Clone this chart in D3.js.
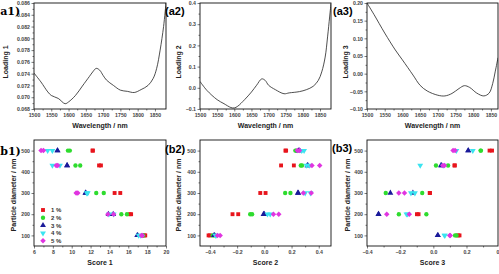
<!DOCTYPE html>
<html>
<head>
<meta charset="utf-8">
<script src="https://cdn.jsdelivr.net/npm/d3@7"></script>
<style>
  body { margin: 0; background: #fff; }
  text { font-family: "Liberation Sans", Arial, sans-serif; }
</style>
</head>
<body>
<script>
// ---- data ----
var wl1 = [1500,1520,1540,1550,1570,1590,1600,1620,1640,1660,1670,1680,1690,1700,1710,1730,1750,1770,1790,1810,1830,1845,1855,1865,1875,1882];
var load1 = [0.0741,0.0726,0.0709,0.0703,0.0698,0.0689,0.0692,0.0703,0.0719,0.0735,0.0743,0.0749,0.0746,0.0737,0.0729,0.0720,0.0712,0.0710,0.0708,0.0713,0.0720,0.0732,0.0749,0.0780,0.0820,0.0860];

var wl2 = [1500,1520,1550,1570,1590,1600,1610,1630,1650,1665,1680,1690,1700,1720,1745,1760,1790,1810,1830,1845,1855,1865,1872,1878,1882];
var load2 = [0.030,-0.012,-0.056,-0.075,-0.093,-0.095,-0.087,-0.056,-0.020,0.012,0.042,0.035,0.012,-0.009,-0.028,-0.024,-0.018,-0.009,0.007,0.035,0.075,0.145,0.240,0.334,0.397];

var wl3 = [1500,1520,1550,1580,1600,1630,1650,1670,1700,1720,1740,1760,1775,1790,1810,1830,1845,1855,1862,1870];
var load3 = [0.200,0.167,0.115,0.067,0.039,-0.004,-0.033,-0.049,-0.061,-0.063,-0.056,-0.042,-0.034,-0.039,-0.055,-0.063,-0.055,-0.028,0.005,0.045];

var diameters = [100, 200, 300, 430, 500];
var concLabels = ["1 %", "2 %", "3 %", "4 %", "5 %"];

// two replicate scores per diameter (100,200,300,430,500), one row per concentration
var score1 = [
  [[17.7,17.8],[16.15,16.3],[14.55,15.15],[12.9,13.1],[12.2,12.25]],
  [[17.5,17.6],[15.26,15.86],[12.6,13.4],[10.4,10.9],[9.6,9.8]],
  [[16.95,17.0],[13.9,14.4],[11.45,11.5],[9.5,9.52],[8.48,8.5]],
  [[17.1,17.3],[13.95,14.45],[11.6,11.7],[7.95,8.75],[7.45,7.95]],
  [[17.4,17.5],[13.84,14.44],[10.47,10.65],[8.35,8.52],[6.75,7.0]]
];
var score2 = [
  [[-0.41,-0.40],[-0.234,-0.192],[-0.03,0.009],[0.123,0.217],[0.155,0.16]],
  [[-0.38,-0.37],[-0.104,-0.09],[0.153,0.192],[0.268,0.277],[0.228,0.235]],
  [[-0.37,-0.365],[-0.006,0.0],[0.246,0.25],[0.316,0.32],[0.25,0.26]],
  [[-0.36,-0.355],[0.023,0.043],[0.30,0.339],[0.31,0.33],[0.275,0.292]],
  [[-0.345,-0.325],[0.067,0.106],[0.287,0.345],[0.35,0.407],[0.243,0.258]]
];
var score3 = [
  [[0.15,0.158],[-0.099,-0.089],[-0.022,-0.02],[0.127,0.13],[0.339,0.354]],
  [[0.131,0.14],[-0.208,-0.042],[-0.287,-0.067],[0.016,0.089],[0.285,0.287]],
  [[0.026,0.028],[-0.331,-0.33],[-0.259,-0.123],[0.046,0.05],[0.21,0.211]],
  [[0.067,0.07],[-0.162,-0.155],[-0.135,-0.111],[-0.079,0.06],[0.139,0.238]],
  [[0.099,0.102],[-0.281,-0.145],[-0.208,-0.174],[0.057,0.067],[0.119,0.131]]
];

var wlTicks = [1500,1550,1600,1650,1700,1750,1800,1850];
var yTicks1 = [0.068,0.070,0.072,0.074,0.076,0.078,0.080,0.082,0.084,0.086];
var yTicks2 = [-0.1,0.0,0.1,0.2,0.3,0.4];
var yTicks3 = [-0.10,-0.05,0.00,0.05,0.10,0.15,0.20];
var dTicks = [100,200,300,400,500];
var sTicks1 = [6,8,10,12,14,16,18,20];
var sTicks2 = [-0.4,-0.2,0.0,0.2,0.4];
var sTicks3 = [-0.4,-0.2,0.0,0.2,0.4];

var colors = ["#e8141c", "#2edc2e", "#1a1a9a", "#3ae4f0", "#e034e0"];
var shapes = [d3.symbolSquare, d3.symbolCircle, d3.symbolTriangle, d3.symbolTriangle, d3.symbolSquare];
var turns = ["", "", "", " rotate(180)", " rotate(45)"];

// ---- drawing ----
var svg = d3.select("body").append("svg")
    .attr("width", 499).attr("height", 274);
svg.append("rect").attr("width", 499).attr("height", 274).attr("fill", "#fff");

var cols = [[34,166],[200,331],[367,498]];
var rowA = [3,109], rowB = [140,246];

function minorBetween(ticks) {
    var out = [];
    for (var i = 0; i < ticks.length - 1; i++) out.push((ticks[i] + ticks[i+1]) / 2);
    return out;
}

function frame(g, x, y, xt, yt, xfmt, yfmt, xtitle, ytitle, ytx, yty, tag, tagx, tagy, serif) {
    var x0 = x.range()[0], x1 = x.range()[1], y0 = y.range()[1], y1 = y.range()[0];

    g.append("g").attr("transform", "translate(0," + y1 + ")")
        .call(d3.axisBottom(x).tickValues(xt).tickSize(2.5).tickPadding(1.5).tickFormat(xfmt));
    g.append("g").attr("transform", "translate(0," + y1 + ")")
        .call(d3.axisBottom(x).tickValues(minorBetween(xt)).tickSize(1.5).tickFormat(""));
    g.append("g").attr("transform", "translate(" + x0 + ",0)")
        .call(d3.axisLeft(y).tickValues(yt).tickSize(2.5).tickPadding(1.5).tickFormat(yfmt));
    g.append("g").attr("transform", "translate(" + x0 + ",0)")
        .call(d3.axisLeft(y).tickValues(minorBetween(yt)).tickSize(1.5).tickFormat(""));

    g.selectAll(".domain").remove();
    g.selectAll(".tick line").attr("stroke", "#222").attr("stroke-width", 0.6);
    g.selectAll(".tick text").attr("font-size", 5.2).attr("font-weight", "bold")
        .attr("fill", "#444").attr("font-family", "Liberation Sans, Arial, sans-serif");

    g.append("rect").attr("x", x0).attr("y", y0)
        .attr("width", x1 - x0).attr("height", y1 - y0)
        .attr("fill", "none").attr("stroke", "#111").attr("stroke-width", 0.9);

    g.append("text").attr("x", (x0 + x1) / 2).attr("y", y1 + 18.5)
        .attr("text-anchor", "middle").attr("font-size", 7).attr("font-weight", "bold")
        .attr("fill", "#222").text(xtitle);
    g.append("text").attr("transform", "translate(" + ytx + "," + yty + ") rotate(-90)")
        .attr("text-anchor", "middle").attr("dy", "0.35em")
        .attr("font-size", 7).attr("font-weight", "bold").attr("fill", "#222").text(ytitle);

    g.append("text").attr("x", tagx).attr("y", tagy)
        .attr("font-size", 11).attr("font-weight", "bold").attr("fill", "#000")
        .style("font-family", serif ? "'DejaVu Serif', serif" : "'Liberation Sans', Arial, sans-serif")
        .text(tag);
}

// loading plots
var aPanels = [
    { wl: wl1, v: load1, xd: [1500,1882], yd: [0.068,0.086], yt: yTicks1, yf: d3.format(".3f"), yl: "Loading 1", ytx: 6, tag: "(a1)", tx: -5, serif: true },
    { wl: wl2, v: load2, xd: [1500,1882], yd: [-0.1,0.4], yt: yTicks2, yf: d3.format(".1f"), yl: "Loading 2", ytx: 179, tag: "(a2)", tx: 165, serif: false },
    { wl: wl3, v: load3, xd: [1500,1870], yd: [-0.1,0.2], yt: yTicks3, yf: d3.format(".2f"), yl: "Loading 3", ytx: 346, tag: "(a3)", tx: 333, serif: false }
];

aPanels.forEach(function (p, i) {
    var g = svg.append("g");
    var x = d3.scaleLinear().domain(p.xd).range(cols[i]);
    var y = d3.scaleLinear().domain(p.yd).range([rowA[1], rowA[0]]);
    var pts = p.wl.map(function (w, k) { return [w, p.v[k]]; });
    var clipId = "clipA" + i;
    g.append("clipPath").attr("id", clipId).append("rect")
        .attr("x", cols[i][0]).attr("y", rowA[0]).attr("width", cols[i][1] - cols[i][0]).attr("height", rowA[1] - rowA[0]);
    g.append("path").datum(pts)
        .attr("clip-path", "url(#" + clipId + ")")
        .attr("d", d3.line().x(function (d) { return x(d[0]); }).y(function (d) { return y(d[1]); }).curve(d3.curveCatmullRom))
        .attr("fill", "none").attr("stroke", "#222").attr("stroke-width", 0.8);
    frame(g, x, y, wlTicks, p.yt, d3.format("d"), p.yf, "Wavelength / nm", p.yl, p.ytx, 62, p.tag, p.tx, 15, p.serif);
});

// score plots
var bPanels = [
    { s: score1, xd: [6,20], xt: sTicks1, xf: d3.format("d"), xl: "Score 1", ytx: 14, tag: "(b1)", tx: -5, ty: 155, serif: true, legend: true },
    { s: score2, xd: [-0.473,0.49], xt: sTicks2, xf: d3.format(".1f"), xl: "Score 2", ytx: 179, tag: "(b2)", tx: 165, ty: 153, serif: false },
    { s: score3, xd: [-0.4,0.39], xt: sTicks3, xf: d3.format(".1f"), xl: "Score 3", ytx: 348, tag: "(b3)", tx: 332, ty: 152, serif: false }
];

bPanels.forEach(function (p, i) {
    var g = svg.append("g");
    var x = d3.scaleLinear().domain(p.xd).range(cols[i]);
    var y = d3.scaleLinear().domain([50,550]).range([rowB[1], rowB[0]]);
    frame(g, x, y, p.xt, dTicks, p.xf, d3.format("d"), p.xl, "Particle diameter / nm", p.ytx, 195, p.tag, p.tx, p.ty, p.serif);

    p.s.forEach(function (rows, c) {
        var pts = [];
        rows.forEach(function (reps, k) {
            reps.forEach(function (v) { pts.push({ x: v, y: diameters[k] }); });
        });
        g.selectAll("path.c" + c).data(pts).enter().append("path")
            .attr("class", "c" + c)
            .attr("d", d3.symbol().type(shapes[c]).size(15))
            .attr("transform", function (d) {
                return "translate(" + x(d.x) + "," + y(d.y) + ")" + turns[c];
            })
            .attr("fill", colors[c]);
    });

    if (p.legend) {
        concLabels.forEach(function (lab, c) {
            var ly = 210 + c * 7.7;
            g.append("path")
                .attr("d", d3.symbol().type(shapes[c]).size(15))
                .attr("transform", "translate(43," + ly + ")" + turns[c])
                .attr("fill", colors[c]);
            g.append("text").attr("x", 51).attr("y", ly).attr("dy", "0.35em")
                .attr("font-size", 6).attr("font-weight", "bold").attr("fill", "#333").text(lab);
        });
    }
});
</script>
</body>
</html>
